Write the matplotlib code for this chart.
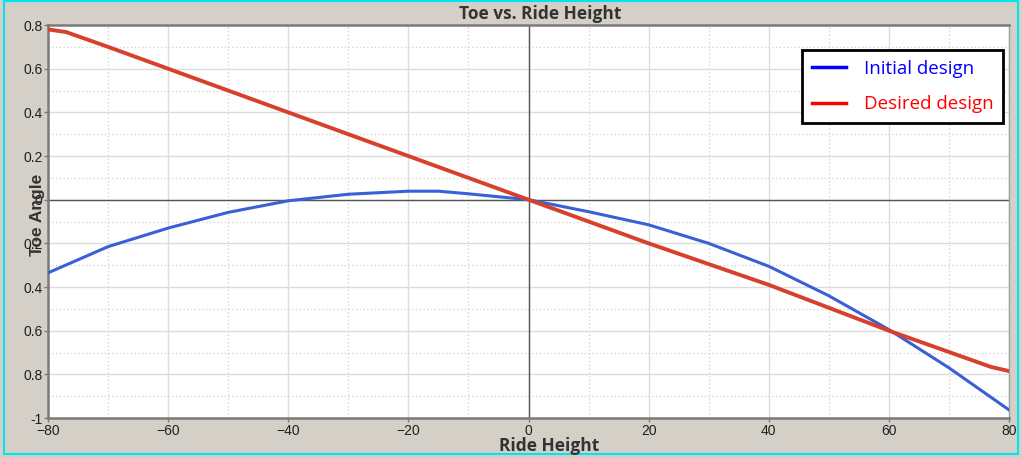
import matplotlib.pyplot as plt
from matplotlib.lines import Line2D
from matplotlib.patches import Rectangle
from matplotlib.ticker import MultipleLocator

# ride height vs toe angle
ride_height = [-80, -70, -60, -50, -40, -30, -20, -15, -10, 0,
               10, 20, 30, 40, 50, 60, 70, 80]
toe_initial = [-0.335, -0.215, -0.13, -0.058, -0.005, 0.025, 0.039, 0.039, 0.027, 0.0,
               -0.055, -0.115, -0.2, -0.305, -0.44, -0.595, -0.77, -0.963]

ride_height_desired = [-80, -77, -70, -60, -40, -20, 0, 20, 40, 60, 77, 80]
toe_desired = [0.78, 0.768, 0.70, 0.60, 0.40, 0.20, 0.0, -0.20, -0.39, -0.60, -0.766, -0.785]

x_ticks = [-80, -60, -40, -20, 0, 20, 40, 60, 80]
y_ticks = [0.8, 0.6, 0.4, 0.2, 0, -0.2, -0.4, -0.6, -0.8, -1]
y_tick_labels = ['0.8', '0.6', '0.4', '0.2', '0', '0.2', '0.4', '0.6', '0.8', '-1']

bg = '#d4d0c8'
fig = plt.figure(figsize=(10.22, 4.58), dpi=100, facecolor=bg)
ax = fig.add_axes([0.047, 0.0873, 0.9403, 0.858])
ax.set_facecolor('white')

ax.plot(ride_height, toe_initial, color='#3a5fd6', lw=2.2, zorder=4)
ax.plot(ride_height_desired, toe_desired, color='#d6402c', lw=2.8, zorder=5)

ax.set_xlim(-80, 80)
ax.set_ylim(-1, 0.8)
ax.set_xticks(x_ticks)
ax.set_yticks(y_ticks)
ax.set_yticklabels(y_tick_labels)
ax.xaxis.set_minor_locator(MultipleLocator(10))
ax.yaxis.set_minor_locator(MultipleLocator(0.1))
ax.grid(which='major', color='#dcdcdc', lw=1.0, zorder=0)
ax.grid(which='minor', color='#d0d0d0', lw=0.9, ls=(0, (1, 2)), zorder=0)
ax.axhline(0, color='#555555', lw=1.0, zorder=2)
ax.axvline(0, color='#555555', lw=1.0, zorder=2)

for side in ['left', 'bottom', 'top', 'right']:
    ax.spines[side].set_color('#7a7a7a')
    ax.spines[side].set_linewidth(1.8)
ax.spines['right'].set_linewidth(1.0)
ax.spines['right'].set_color('#a0a0a0')

ax.tick_params(which='major', length=3, width=1, color='#7a7a7a',
               labelsize=10, labelcolor='#202020', pad=1)
ax.tick_params(which='minor', length=0)
for lbl in ax.get_xticklabels() + ax.get_yticklabels():
    lbl.set_family('Liberation Sans')

fig.text(0.529, 0.969, 'Toe vs. Ride Height', ha='center', va='center',
         fontsize=12.5, fontweight='bold', family='Open Sans', color='#333333')
fig.text(0.537, 0.027, 'Ride Height', ha='center', va='center',
         fontsize=12.5, fontweight='bold', family='Open Sans', color='#333333')
fig.text(0.037, 0.53, 'Toe Angle', ha='center', va='center', rotation=90,
         fontsize=12.5, fontweight='bold', family='Liberation Sans', color='#333333')

handles = [Line2D([], [], color='#0000ff', lw=2.5),
           Line2D([], [], color='#ff0000', lw=2.5)]
leg = ax.legend(handles, ['Initial design', 'Desired design'],
                loc='upper right', bbox_to_anchor=(0.994, 0.936),
                prop={'family': 'Open Sans', 'size': 13.5},
                fancybox=False, framealpha=1, edgecolor='black',
                handlelength=1.8, handletextpad=1.0, borderpad=0.5,
                labelspacing=0.95, borderaxespad=0)
leg.get_frame().set_linewidth(2)
for txt, c in zip(leg.get_texts(), ['#0000ff', '#ff0000']):
    txt.set_color(c)

fig.patches.append(Rectangle((0.004, 0.008), 0.992, 0.99, transform=fig.transFigure,
                             fill=False, edgecolor='#00e5ee', lw=1.5))

fig.savefig('out.png', dpi=100, facecolor=bg)
